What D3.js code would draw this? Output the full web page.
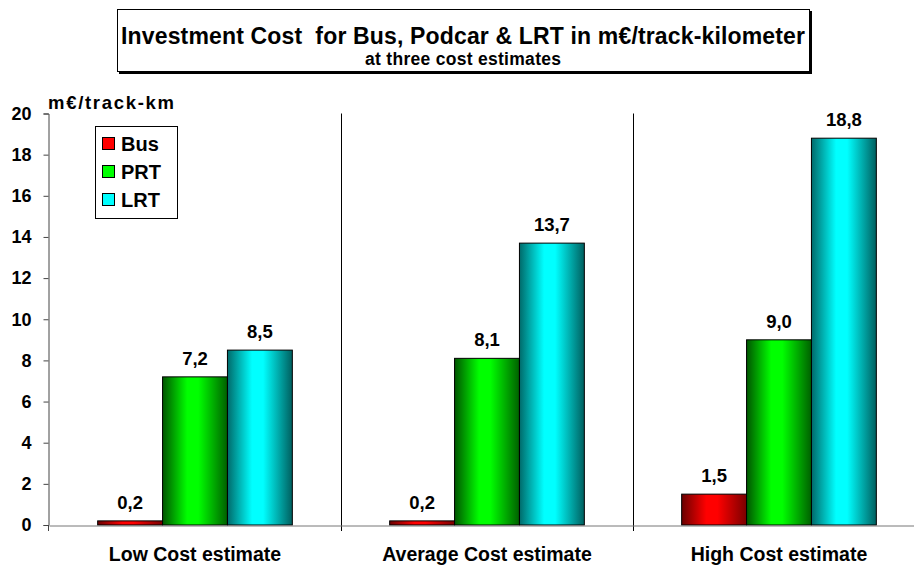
<!DOCTYPE html>
<html>
<head>
<meta charset="utf-8">
<script src="https://cdn.jsdelivr.net/npm/d3@7"></script>
<style>
  html, body { margin: 0; padding: 0; background: #fff; }
  svg { display: block; font-family: "Liberation Sans", Arial, sans-serif; }
</style>
</head>
<body>
<svg id="chart" width="914" height="565"></svg>
<script>
// Investment cost per track-kilometre (million €)
const categories = ["Low Cost estimate", "Average Cost estimate", "High Cost estimate"];
const seriesNames = ["Bus", "PRT", "LRT"];
const busValues = [0.2, 0.2, 1.5];
const prtValues = [7.2, 8.1, 9.0];
const lrtValues = [8.5, 13.7, 18.8];
const yTicks = [0, 2, 4, 6, 8, 10, 12, 14, 16, 18, 20];

const seriesValues = [busValues, prtValues, lrtValues];
const palette = {
  Bus: ["#6a0000", "#ff0000", "#7a0000"],
  PRT: ["#005500", "#00ff00", "#006000"],
  LRT: ["#006a6a", "#00ffff", "#005f5f"]
};

const svg = d3.select("#chart");
const plotLeft = 49, plotRight = 925, plotTop = 113.5, plotBottom = 525;

const x = d3.scaleBand().domain(categories).range([plotLeft, plotRight]).paddingInner(0).paddingOuter(0);
const xs = d3.scaleBand().domain(seriesNames).range([0, x.bandwidth()]).paddingInner(0).paddingOuter(0.75);
const y = d3.scaleLinear().domain([0, 20]).range([plotBottom, plotTop]);

// horizontal gradients for the cylinder-like bars
const defs = svg.append("defs");
seriesNames.forEach(name => {
  const g = defs.append("linearGradient").attr("id", "grad-" + name)
    .attr("x1", "0%").attr("x2", "100%").attr("y1", "0%").attr("y2", "0%");
  const c = palette[name];
  g.append("stop").attr("offset", "0%").attr("stop-color", c[0]);
  g.append("stop").attr("offset", "38%").attr("stop-color", c[1]);
  g.append("stop").attr("offset", "55%").attr("stop-color", c[1]);
  g.append("stop").attr("offset", "100%").attr("stop-color", c[2]);
});

// title box with shadow
svg.append("rect").attr("x", 119).attr("y", 11).attr("width", 693).attr("height", 63).attr("fill", "#000");
svg.append("rect").attr("x", 117.5).attr("y", 9.5).attr("width", 692).attr("height", 62)
  .attr("fill", "#fff").attr("stroke", "#000").attr("stroke-width", 1);
svg.append("text").attr("x", 463).attr("y", 44).attr("text-anchor", "middle")
  .attr("font-size", 23).attr("font-weight", "bold")
  .attr("textLength", 684).attr("lengthAdjust", "spacing")
  .style("white-space", "pre")
  .text("Investment Cost  for Bus, Podcar & LRT in m€/track-kilometer");
svg.append("text").attr("x", 463).attr("y", 65).attr("text-anchor", "middle")
  .attr("font-size", 17.5).attr("font-weight", "bold")
  .attr("textLength", 196).attr("lengthAdjust", "spacing")
  .text("at three cost estimates");

// category separators (vertical gridlines at category boundaries)
svg.append("g").selectAll("line").data(categories.slice(1)).join("line")
  .attr("x1", d => Math.round(x(d)) + 0.5).attr("x2", d => Math.round(x(d)) + 0.5)
  .attr("y1", plotTop).attr("y2", plotBottom + 6)
  .attr("stroke", "#000").attr("stroke-width", 1);

// bars
const groups = svg.append("g").selectAll("g").data(categories).join("g")
  .attr("transform", d => `translate(${x(d)},0)`);

groups.selectAll("rect").data((d, i) => seriesNames.map((s, j) => ({ s, v: seriesValues[j][i] })))
  .join("rect")
  .attr("x", d => xs(d.s)).attr("width", xs.bandwidth())
  .attr("y", d => y(d.v)).attr("height", d => y(0) - y(d.v))
  .attr("fill", d => `url(#grad-${d.s})`)
  .attr("stroke", "#000").attr("stroke-width", 1);

groups.selectAll("text").data((d, i) => seriesNames.map((s, j) => ({ s, v: seriesValues[j][i] })))
  .join("text")
  .attr("x", d => xs(d.s) + xs.bandwidth() / 2).attr("y", d => y(d.v) - 12)
  .attr("text-anchor", "middle").attr("font-size", 18.5).attr("font-weight", "bold")
  .text(d => d3.format(".1f")(d.v).replace(".", ","));

// y axis
const yAxis = d3.axisLeft(y).tickValues(yTicks).tickSize(5).tickFormat(d3.format("d"));
const ya = svg.append("g").attr("transform", `translate(${plotLeft - 0.5},0)`).call(yAxis);
ya.select(".domain").attr("stroke", "#444").attr("stroke-width", 1);
ya.selectAll(".tick line").attr("stroke", "#444");
ya.selectAll(".tick text").attr("font-size", 18).attr("font-weight", "bold")
  .attr("font-family", "Liberation Sans, Arial, sans-serif").attr("fill", "#000").attr("x", -17);

// x axis baseline
const xAxis = d3.axisBottom(x).tickSize(0).tickFormat(d => d);
const xa = svg.append("g").attr("transform", `translate(0,${plotBottom + 0.5})`).call(xAxis);
xa.select(".domain").attr("stroke", "#777");
xa.selectAll(".tick text").attr("font-size", 19.5).attr("font-weight", "bold")
  .attr("font-family", "Liberation Sans, Arial, sans-serif").attr("fill", "#000").attr("dy", 0).attr("y", 35);
svg.append("line").attr("x1", plotLeft - 0.5).attr("x2", plotLeft - 0.5).attr("y1", plotBottom).attr("y2", plotBottom + 6).attr("stroke", "#444");

// unit label
svg.append("text").attr("x", 48).attr("y", 109).attr("font-size", 18.5).attr("font-weight", "bold")
  .attr("textLength", 126).attr("lengthAdjust", "spacing")
  .text("m€/track-km");

// legend
const lg = svg.append("g");
lg.append("rect").attr("x", 95.5).attr("y", 126.5).attr("width", 82).attr("height", 92)
  .attr("fill", "#fff").attr("stroke", "#000");
seriesNames.forEach((s, i) => {
  const cy = 144 + i * 28;
  lg.append("rect").attr("x", 102.5).attr("y", cy - 6.5).attr("width", 12).attr("height", 12)
    .attr("fill", palette[s][1]).attr("stroke", "#000");
  lg.append("text").attr("x", 121).attr("y", cy + 7).attr("font-size", 20).attr("font-weight", "bold").text(s);
});
</script>
</body>
</html>
